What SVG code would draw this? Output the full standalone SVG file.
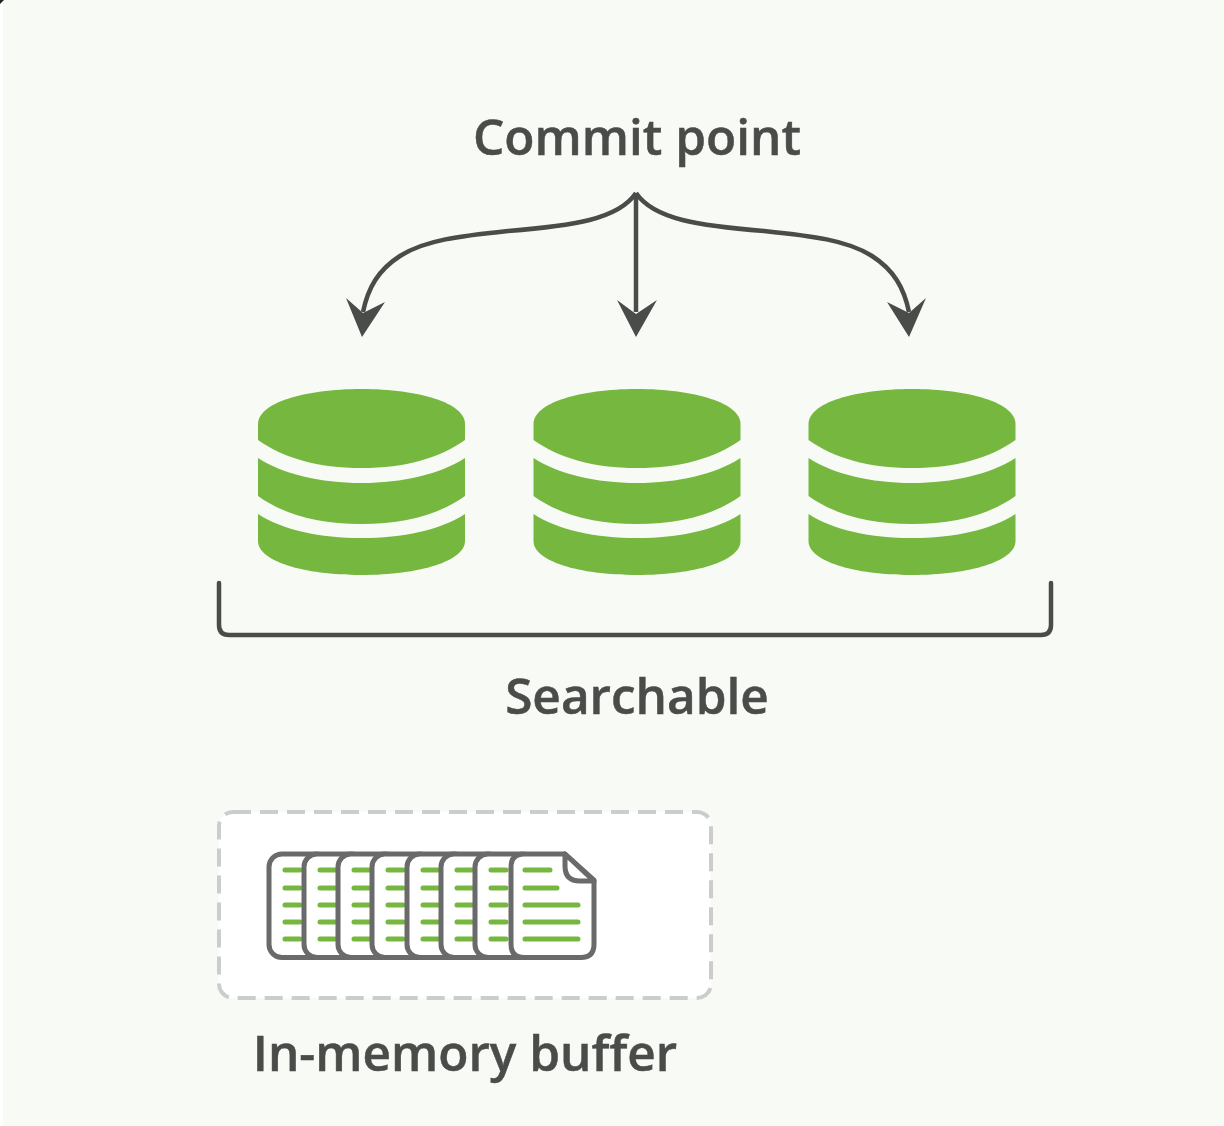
<svg xmlns="http://www.w3.org/2000/svg" width="1224" height="1126" viewBox="0 0 1224 1126">
<style>
.t{font-family:"Open Sans","Noto Sans","Liberation Sans",sans-serif;font-weight:600;font-size:49.500px;fill:#4a4c4a;stroke:#4a4c4a;stroke-width:.5;text-anchor:middle}
.c{fill:none;stroke:#4a4c4a;stroke-width:4.500}
.h{fill:#4a4c4a}
.g{fill:#76b73f}
.p{fill:#fff;stroke:#6a6a6a;stroke-width:5;stroke-linejoin:round}
.l{stroke:#76b73f;stroke-width:5;stroke-linecap:round;fill:none}
</style>
<defs>
<g id="cyl">
<path class="g" d="M258 424C258 403 304 389 361.500 389S465 403 465 424V440C440 458 405 468 361.500 468S283 458 258 440Z"/>
<path class="g" d="M258 458C283 474 320 483 361.500 483S440 474 465 458V496C440 514 405 524 361.500 524S283 514 258 496Z"/>
<path class="g" d="M258 514C283 530 320 538 361.500 538S440 530 465 514V541C465 561 420 575 361.500 575S258 561 258 541Z"/>
</g>
<g id="page">
<rect class="p" x="269" y="854" width="60" height="103.500" rx="13"/>
<path class="l" d="M285 870H300M285 888H300M285 905H300M285 922H300M285 939H300"/>
</g>
</defs>
<rect width="1224" height="1126" fill="#fff"/>
<rect x="3" width="1221" height="1126" fill="#f8faf6"/>
<path d="M0 0H4L0 4Z" fill="#222"/>

<g id="commit-point"><text class="t" x="637" y="155">Commit point</text></g>
<g id="connectors">
<path class="c" d="M636 193C618 220 570 226 508 231C460 236 425 240 400 256C378 270 368 288 363 312"/>
<path class="h" d="M362 337L346 298L363 313L385 302Z"/>
<path class="c" d="M636 193V312"/>
<path class="h" d="M636 337L617 300L636 314L657 300Z"/>
<path class="c" d="M636 193C654 220 702 226 764 231C812 236 847 240 872 256C894 270 904 288 909 312"/>
<path class="h" d="M909 337L887 302L909 313L926 298Z"/>
</g>
<g id="segment-1"><use href="#cyl"/></g>
<g id="segment-2"><use href="#cyl" x="275.500"/></g>
<g id="segment-3"><use href="#cyl" x="550.500"/></g>
<g id="searchable">
<path class="c" d="M219 583V625Q219 635 229 635H1041Q1051 635 1051 625V583" stroke-linecap="round"/>
<text class="t" x="637" y="714">Searchable</text>
</g>
<g id="in-memory-buffer">
<rect x="219" y="812" width="492" height="186" rx="14" fill="#fff" stroke="#ccc" stroke-width="4" stroke-dasharray="18 9"/>
<use href="#page"/>
<use href="#page" x="35"/>
<use href="#page" x="69"/>
<use href="#page" x="103"/>
<use href="#page" x="138"/>
<use href="#page" x="172"/>
<use href="#page" x="206"/>
<path class="p" d="M524 854H565L594 880V944Q594 957.500 581 957.500H524Q511 957.500 511 944V867Q511 854 524 854Z"/>
<path class="p" d="M565 854V866Q565 881 580 881H594Z"/>
<path class="l" d="M525 870H550M525 888H557M525 905H578M525 922H578M525 939H578"/>
<text class="t" x="465" y="1071">In-memory buffer</text>
</g>
</svg>
